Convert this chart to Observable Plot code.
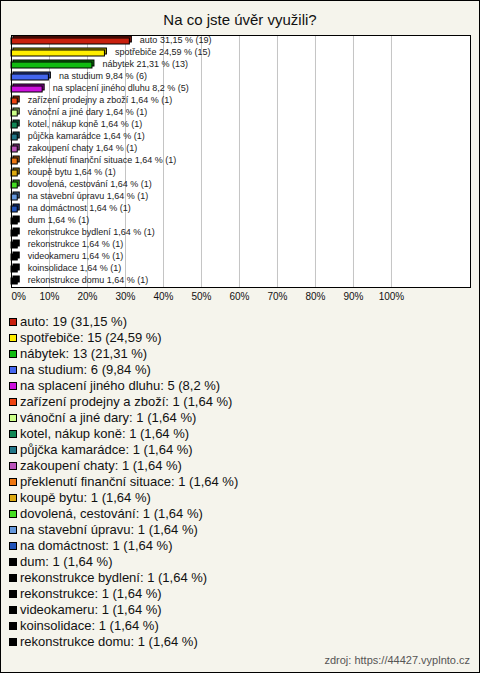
<!DOCTYPE html>
<html>
<head>
<meta charset="utf-8">
<script src="https://cdn.jsdelivr.net/npm/d3@7"></script>
<script src="https://cdn.jsdelivr.net/npm/@observablehq/plot@0.6"></script>
<style>
  html, body { margin: 0; padding: 0; background: #fff; }
  #chart {
    position: relative; width: 480px; height: 673px; background: #f5f4ec;
    outline: 1px solid #000; outline-offset: -1px; overflow: hidden;
    font-family: Arial, "Liberation Sans", sans-serif; color: #111;
  }
  #title { position: absolute; left: 0; top: 11px; width: 480px; text-align: center; font-size: 15px; line-height: 18px; }
  #plot { position: absolute; left: 0; top: 34px; line-height: 0; }
  #plot svg { display: block; }
  #legend { position: absolute; left: 9px; top: 314px; font-size: 13px; line-height: 16px; }
  #legend .row { height: 16px; white-space: nowrap; display: flex; align-items: center; }
  #legend .sw { width: 6px; height: 6px; border: 1px solid #000; margin-right: 3px; flex: none; }
  #caption { position: absolute; right: 10px; top: 654px; font-size: 11px; color: #555; }
</style>
</head>
<body>
<div id="chart">
  <div id="title">Na co jste úvěr využili?</div>
  <div id="plot"></div>
  <div id="legend"></div>
  <div id="caption">zdroj: https://44427.vyplnto.cz</div>
</div>
<script>
const categories = [
  "auto", "spotřebiče", "nábytek", "na studium", "na splacení jiného dluhu",
  "zařízení prodejny a zboží", "vánoční a jiné dary", "kotel, nákup koně",
  "půjčka kamarádce", "zakoupení chaty", "překlenutí finanční situace",
  "koupě bytu", "dovolená, cestování", "na stavební úpravu", "na domáctnost",
  "dum", "rekonstrukce bydlení", "rekonstrukce", "videokameru", "koinsolidace",
  "rekonstrukce domu"
];
const counts = [19, 15, 13, 6, 5, 1, 1, 1, 1, 1, 1, 1, 1, 1, 1, 1, 1, 1, 1, 1, 1];
const percents = [31.15, 24.59, 21.31, 9.84, 8.2, 1.64, 1.64, 1.64, 1.64, 1.64, 1.64,
  1.64, 1.64, 1.64, 1.64, 1.64, 1.64, 1.64, 1.64, 1.64, 1.64];
const colors = [
  "#c8200e", "#ffee00", "#11bb11", "#4466ee", "#cc11dd", "#ee4411", "#ccff88",
  "#118855", "#227788", "#bb55bb", "#ee7711", "#ddaa11", "#44dd22", "#6699dd",
  "#2255bb", "#000000", "#000000", "#000000", "#000000", "#000000", "#000000"
];
const tickValues = [0, 10, 20, 30, 40, 50, 60, 70, 80, 90, 100];

const fmt = p => String(p).replace(".", ",");
const data = categories.map((c, i) => ({
  cat: c, n: counts[i], pct: percents[i], color: colors[i],
  dark: colors[i] === "#000000" ? "#000000" : d3.color(colors[i]).darker(1.2).formatHex()
}));

const plot = Plot.plot({
  width: 480,
  height: 274,
  marginLeft: 11,
  marginRight: 10,
  marginTop: 1,
  marginBottom: 21,
  x: { domain: [0, 120.8], axis: null },
  y: { domain: categories, axis: null, paddingInner: 0.5, paddingOuter: 0.25, align: 0.5 },
  style: { background: "transparent", fontFamily: "Arial, 'Liberation Sans', sans-serif" },
  marks: [
    Plot.frame({ fill: "white", stroke: "none" }),
    Plot.ruleX(tickValues.filter(v => v > 0), { stroke: "#c4c4c4", strokeWidth: 1 }),
    Plot.barX(data, { x1: 0, x2: "pct", y: "cat", fill: "dark", stroke: "#000", strokeWidth: 1, dx: 2, dy: -2 }),
    Plot.barX(data, { x1: 0, x2: "pct", y: "cat", fill: "color", stroke: "#000", strokeWidth: 1 }),
    Plot.text(data, {
      x: "pct", y: "cat", text: d => `${d.cat} ${fmt(d.pct)} % (${d.n})`,
      textAnchor: "start", dx: 10, dy: -1, fontSize: 9, fill: "#222"
    }),
    Plot.frame({ stroke: "#000", strokeWidth: 1 }),
    Plot.text(tickValues.filter(v => v > 0), {
      x: d => d, text: d => d + "%", frameAnchor: "bottom", dy: 12,
      textAnchor: "middle", fontSize: 10, fill: "#111"
    }),
    Plot.text([0], {
      x: d => d, text: d => d + "%", frameAnchor: "bottom", dy: 12,
      textAnchor: "start", fontSize: 10, fill: "#111"
    })
  ]
});
document.getElementById("plot").appendChild(plot);

const legend = document.getElementById("legend");
data.forEach(d => {
  const row = document.createElement("div");
  row.className = "row";
  const sw = document.createElement("span");
  sw.className = "sw";
  sw.style.background = d.color;
  const tx = document.createElement("span");
  tx.textContent = `${d.cat}: ${d.n} (${fmt(d.pct)} %)`;
  row.appendChild(sw);
  row.appendChild(tx);
  legend.appendChild(row);
});
</script>
</body>
</html>
